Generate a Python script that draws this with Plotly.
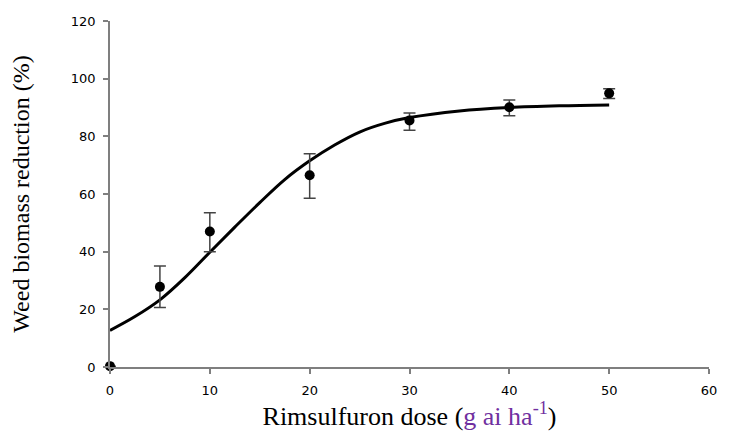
import plotly.graph_objects as go

# Observed data
dose = [0, 5, 10, 20, 30, 40, 50]
reduction = [0.3, 27.8, 47.0, 66.5, 85.5, 90.1, 94.9]
err_plus = [0, 7.2, 6.5, 7.5, 2.6, 2.5, 1.6]
err_minus = [0, 7.2, 7.0, 8.0, 3.4, 3.0, 1.8]

# Fitted curve
curve_x = [0, 2.5, 5, 7.5, 10, 12.5, 15, 17.5, 20, 22.5, 25, 27.5, 30, 35, 40, 45, 50]
curve_y = [12.7, 17.5, 23.3, 31.0, 39.8, 48.5, 57.0, 65.0, 71.5, 77.0, 81.5, 84.5, 86.5, 88.8, 90.0, 90.6, 90.9]

x_ticks = [0, 10, 20, 30, 40, 50, 60]
y_ticks = [0, 20, 40, 60, 80, 100, 120]

fig = go.Figure()
fig.add_trace(go.Scatter(
    x=curve_x, y=curve_y, mode="lines",
    line=dict(color="black", width=3, shape="spline"),
    hoverinfo="skip", showlegend=False,
))
fig.add_trace(go.Scatter(
    x=dose, y=reduction, mode="markers",
    marker=dict(color="black", size=10),
    error_y=dict(type="data", symmetric=False, array=err_plus, arrayminus=err_minus,
                 color="#444444", thickness=1.5, width=6),
    cliponaxis=False, showlegend=False,
))

axis_common = dict(
    showgrid=False, zeroline=False, showline=True, linecolor="#7f7f7f", linewidth=1.5,
    ticks="outside", tickcolor="#7f7f7f", ticklen=5, tickwidth=1.5,
    tickfont=dict(family="DejaVu Sans", size=13, color="black"),
)

title_font = dict(family="Liberation Serif, Times New Roman", color="black")

fig.update_layout(
    width=729, height=437,
    margin=dict(l=110, r=14, t=21, b=66),
    paper_bgcolor="white", plot_bgcolor="white",
    xaxis=dict(range=[0, 60], tickvals=x_ticks, ticklabelstandoff=6,
               title=dict(text='Rimsulfuron dose (<span style="color:#7030A0">g ai ha<sup>-1</sup></span>)',
                          font=dict(size=26, **title_font), standoff=8),
               **axis_common),
    yaxis=dict(range=[0, 120], tickvals=y_ticks, ticklabelstandoff=5,
               title=dict(text="Weed biomass reduction (%)",
                          font=dict(size=24, **title_font), standoff=34),
               **axis_common),
)

fig.write_html(
    "out.html",
    config={"displayModeBar": False},
    post_script="document.body.style.margin='0';document.body.style.overflow='hidden';",
)
